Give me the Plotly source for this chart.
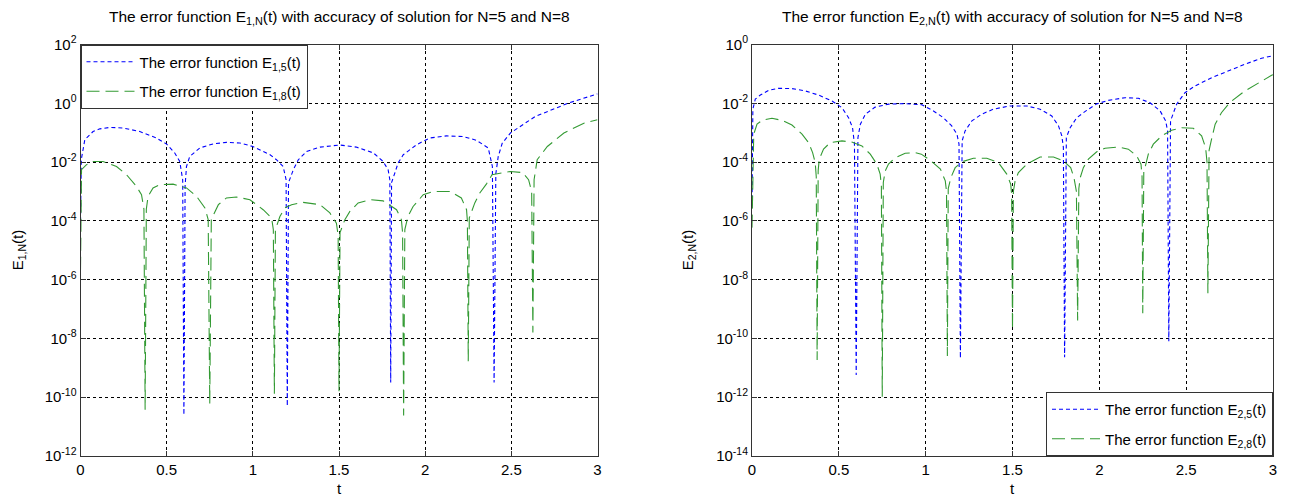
import plotly.graph_objects as go

# ---------------- data (errors stored as log10) -------------
# Left panel: E_{1,5}(t)
t_e15 = [0, 0.005, 0.025, 0.073, 0.112, 0.17, 0.247, 0.344, 0.44, 0.5, 0.547, 0.576, 0.593,
         0.6,
         0.607, 0.615, 0.634, 0.692, 0.77, 0.847, 0.924, 1.0, 1.1, 1.137, 1.176, 1.193,
         1.2,
         1.207, 1.235, 1.264, 1.312, 1.39, 1.505, 1.6, 1.7, 1.756, 1.785, 1.795,
         1.8,
         1.805, 1.824, 1.843, 1.873, 1.95, 2.027, 2.124, 2.22, 2.298, 2.366, 2.376, 2.39,
         2.4,
         2.41, 2.424, 2.447, 2.495, 2.638, 2.828, 3.0]
log_e15 = [-4.0, -1.9, -1.24, -0.96, -0.87, -0.82, -0.84, -0.96, -1.18, -1.39, -1.69, -1.98, -2.6,
           -10.6,
           -2.8, -2.15, -1.81, -1.52, -1.38, -1.33, -1.35, -1.47, -1.75, -1.92, -2.15, -2.6,
           -10.3,
           -2.7, -2.26, -1.92, -1.64, -1.49, -1.42, -1.49, -1.69, -1.98, -2.26, -2.6,
           -9.5,
           -2.7, -2.37, -2.03, -1.75, -1.41, -1.18, -1.11, -1.13, -1.26, -1.52, -1.75, -2.15,
           -9.5,
           -2.4, -1.81, -1.36, -1.01, -0.45, 0.0, 0.32]

# Left panel: E_{1,8}(t)
t_e18 = [0, 0.006, 0.035, 0.073, 0.131, 0.209, 0.267, 0.325, 0.354, 0.368,
         0.375,
         0.382, 0.392, 0.421, 0.46, 0.537, 0.615, 0.674, 0.722, 0.741,
         0.75,
         0.759, 0.8, 0.847, 0.905, 0.983, 1.06, 1.109, 1.119,
         1.125,
         1.131, 1.157, 1.186, 1.225, 1.29, 1.39, 1.447, 1.485, 1.495,
         1.5,
         1.506, 1.534, 1.563, 1.611, 1.68, 1.756, 1.834, 1.862, 1.869,
         1.875,
         1.882, 1.9, 1.93, 1.989, 2.047, 2.145, 2.21, 2.24, 2.245,
         2.25,
         2.256, 2.288, 2.317, 2.356, 2.388, 2.495, 2.566, 2.6, 2.618,
         2.625,
         2.632, 2.65, 2.709, 2.805, 2.924, 3.0]
log_e18 = [-5.66, -2.26, -2.09, -1.98, -1.98, -2.15, -2.43, -2.83, -3.11, -3.6,
           -10.43,
           -3.6, -3.17, -2.88, -2.77, -2.75, -2.88, -3.17, -3.56, -3.96,
           -10.22,
           -3.95, -3.45, -3.22, -3.19, -3.28, -3.62, -3.9, -4.3,
           -9.88,
           -4.3, -3.85, -3.56, -3.45, -3.37, -3.45, -3.73, -4.08, -4.5,
           -9.8,
           -4.4, -3.96, -3.68, -3.39, -3.28, -3.32, -3.62, -3.96, -4.4,
           -10.62,
           -4.3, -3.85, -3.51, -3.11, -3.0, -3.0, -3.22, -3.62, -4.0,
           -8.78,
           -3.9, -3.39, -3.05, -2.74, -2.43, -2.32, -2.36, -2.6, -3.0,
           -7.8,
           -2.6, -1.92, -1.47, -1.01, -0.67, -0.56]

# Right panel: E_{2,5}(t)
t_e25 = [0, 0.005, 0.019, 0.048, 0.096, 0.153, 0.23, 0.307, 0.383, 0.46, 0.518, 0.556, 0.579, 0.59,
         0.6,
         0.61, 0.624, 0.653, 0.709, 0.787, 0.882, 0.978, 1.045, 1.102, 1.15, 1.18, 1.192,
         1.2,
         1.21, 1.227, 1.266, 1.323, 1.39, 1.486, 1.582, 1.659, 1.726, 1.765, 1.784, 1.793,
         1.8,
         1.81, 1.832, 1.87, 1.927, 1.985, 2.052, 2.148, 2.225, 2.292, 2.35, 2.382, 2.393,
         2.4,
         2.41, 2.445, 2.493, 2.551, 2.647, 2.742, 2.838, 2.934, 3.0]
log_e25 = [-5.5, -2.2, -1.86, -1.72, -1.56, -1.49, -1.5, -1.58, -1.72, -1.92, -2.15, -2.49, -2.83, -3.39,
           -11.24,
           -3.17, -2.71, -2.37, -2.13, -2.03, -2.01, -2.05, -2.26, -2.49, -2.77, -3.05, -3.39,
           -10.67,
           -3.28, -2.94, -2.6, -2.37, -2.2, -2.09, -2.09, -2.2, -2.43, -2.77, -3.11, -3.5,
           -10.64,
           -3.17, -2.83, -2.49, -2.24, -2.02, -1.9, -1.81, -1.83, -1.98, -2.26, -2.6, -2.94,
           -10.1,
           -2.6, -2.03, -1.64, -1.41, -1.13, -0.9, -0.67, -0.47, -0.38]

# Right panel: E_{2,8}(t)
t_e28 = [0, 0.01, 0.029, 0.058, 0.115, 0.173, 0.23, 0.288, 0.326, 0.349, 0.364, 0.37,
         0.375,
         0.381, 0.387, 0.412, 0.45, 0.518, 0.575, 0.633, 0.681, 0.719, 0.738, 0.745,
         0.75,
         0.756, 0.767, 0.786, 0.825, 0.882, 0.94, 0.975, 1.027, 1.085, 1.113, 1.12,
         1.125,
         1.13, 1.145, 1.17, 1.209, 1.275, 1.352, 1.419, 1.467, 1.49, 1.495,
         1.5,
         1.505, 1.515, 1.534, 1.582, 1.659, 1.736, 1.793, 1.835, 1.854, 1.868,
         1.875,
         1.882, 1.89, 1.908, 1.937, 1.985, 2.033, 2.11, 2.167, 2.215, 2.24, 2.246,
         2.25,
         2.256, 2.263, 2.282, 2.311, 2.359, 2.416, 2.474, 2.541, 2.589, 2.612, 2.62,
         2.625,
         2.632, 2.644, 2.667, 2.703, 2.75, 2.838, 2.915, 2.992, 3.0]
log_e28 = [-6.23, -3.05, -2.71, -2.58, -2.51, -2.58, -2.74, -3.05, -3.34, -3.68, -4.02, -4.5,
           -10.73,
           -4.3, -3.9, -3.56, -3.34, -3.28, -3.32, -3.45, -3.73, -4.07, -4.41, -4.8,
           -11.98,
           -4.7, -4.3, -4.07, -3.85, -3.7, -3.68, -3.73, -3.94, -4.24, -4.64, -5.0,
           -10.6,
           -4.9, -4.53, -4.19, -3.99, -3.87, -3.87, -4.02, -4.41, -4.76, -5.1,
           -9.69,
           -5.0, -4.64, -4.36, -4.07, -3.83, -3.83, -3.96, -4.19, -4.53, -5.0,
           -9.39,
           -4.9, -4.53, -4.19, -3.9, -3.65, -3.53, -3.49, -3.56, -3.79, -4.07, -4.5,
           -9.14,
           -4.3, -4.19, -3.73, -3.39, -3.11, -2.92, -2.83, -2.85, -3.11, -3.51, -4.0,
           -8.46,
           -3.6, -3.28, -2.71, -2.32, -1.98, -1.58, -1.3, -1.05, -1.03]

x_tick_vals = [0, 0.5, 1, 1.5, 2, 2.5, 3]
x_tick_text = ["0", "0.5", "1", "1.5", "2", "2.5", "3"]
y1_exponents = [2, 0, -2, -4, -6, -8, -10, -12]
y2_exponents = [0, -2, -4, -6, -8, -10, -12, -14]

title1 = "The error function E<sub>1,N</sub>(t) with accuracy of solution for N=5 and N=8"
title2 = "The error function E<sub>2,N</sub>(t) with accuracy of solution for N=5 and N=8"
ylabel1 = "E<sub>1,N</sub>(t)"
ylabel2 = "E<sub>2,N</sub>(t)"
xlabel = "t"

for a, b in [(t_e15, log_e15), (t_e18, log_e18), (t_e25, log_e25), (t_e28, log_e28)]:
    assert len(a) == len(b), (len(a), len(b))


def to_val(logs):
    return [10.0 ** v for v in logs]


BLUE = "#0000ff"
GREEN = "#339a33"
BLUE_DASH = "4px,3px"
GREEN_DASH = "13px,6px"
FONT = "Liberation Sans, Arial, Helvetica, sans-serif"

# the page body adds an 8px margin, so the figure is 8px smaller and positions are shifted
W, H = 1281, 488
OFF = 8


def px_x(x):
    return (x - OFF) / W


def px_y(y):
    return 1 - (y - OFF) / H


fig = go.Figure()
fig.add_trace(go.Scatter(x=t_e15, y=to_val(log_e15), mode="lines", name="The error function E<sub>1,5</sub>(t)",
                         line=dict(color=BLUE, width=1.1, dash=BLUE_DASH), xaxis="x", yaxis="y",
                         legend="legend", legendgroup="a"))
fig.add_trace(go.Scatter(x=t_e18, y=to_val(log_e18), mode="lines", name="The error function E<sub>1,8</sub>(t)",
                         line=dict(color=GREEN, width=1.1, dash=GREEN_DASH), xaxis="x", yaxis="y",
                         legend="legend", legendgroup="b"))
fig.add_trace(go.Scatter(x=t_e25, y=to_val(log_e25), mode="lines", name="The error function E<sub>2,5</sub>(t)",
                         line=dict(color=BLUE, width=1.1, dash=BLUE_DASH), xaxis="x2", yaxis="y2",
                         legend="legend2", legendgroup="c"))
fig.add_trace(go.Scatter(x=t_e28, y=to_val(log_e28), mode="lines", name="The error function E<sub>2,8</sub>(t)",
                         line=dict(color=GREEN, width=1.1, dash=GREEN_DASH), xaxis="x2", yaxis="y2",
                         legend="legend2", legendgroup="d"))

common = dict(showline=True, linecolor="#333333", linewidth=1, mirror="ticks",
              ticks="inside", ticklen=5, tickcolor="#333333", automargin=False,
              showgrid=True, gridcolor="black", griddash="3px,3px", gridwidth=1,
              zeroline=False, tickfont=dict(family=FONT, size=15, color="black"))

XD1 = [px_x(80.5), px_x(597.5)]
XD2 = [px_x(752), px_x(1273)]
YD = [px_y(456), px_y(44.5)]


def ytick_text(exps):
    return ["10<sup>%d</sup>" % e for e in exps]


legend_common = dict(bgcolor="white", bordercolor="#333333", borderwidth=1,
                     font=dict(family=FONT, size=15, color="black"),
                     traceorder="grouped", tracegroupgap=7, itemwidth=48)

fig.update_layout(
    template="none",
    width=W, height=H, autosize=False,
    margin=dict(l=0, r=0, t=0, b=0, pad=0),
    paper_bgcolor="white", plot_bgcolor="white",
    font=dict(family=FONT, size=14, color="black"),
    showlegend=True,
    xaxis=dict(domain=XD1, range=[0, 3], anchor="y", tickvals=x_tick_vals, ticktext=x_tick_text, **common),
    yaxis=dict(domain=YD, type="log", range=[-12, 2], anchor="x",
               tickvals=[10.0 ** e for e in y1_exponents], ticktext=ytick_text(y1_exponents), **common),
    xaxis2=dict(domain=XD2, range=[0, 3], anchor="y2", tickvals=x_tick_vals, ticktext=x_tick_text, **common),
    yaxis2=dict(domain=YD, type="log", range=[-14, 0], anchor="x2",
                tickvals=[10.0 ** e for e in y2_exponents], ticktext=ytick_text(y2_exponents), **common),
    legend=dict(x=XD1[0], y=YD[1], xanchor="left", yanchor="top", **legend_common),
    legend2=dict(x=XD2[1], y=YD[0], xanchor="right", yanchor="bottom", **legend_common),
    annotations=[
        dict(text=title1, x=(XD1[0] + XD1[1]) / 2, y=px_y(18), xref="paper", yref="paper",
             xanchor="center", yanchor="middle", showarrow=False, font=dict(size=15.5)),
        dict(text=title2, x=(XD2[0] + XD2[1]) / 2, y=px_y(18), xref="paper", yref="paper",
             xanchor="center", yanchor="middle", showarrow=False, font=dict(size=15.5)),
        dict(text=ylabel1, x=px_x(18), y=(YD[0] + YD[1]) / 2, xref="paper", yref="paper",
             xanchor="center", yanchor="middle", textangle=-90, showarrow=False, font=dict(size=15)),
        dict(text=ylabel2, x=px_x(688), y=(YD[0] + YD[1]) / 2, xref="paper", yref="paper",
             xanchor="center", yanchor="middle", textangle=-90, showarrow=False, font=dict(size=15)),
        dict(text=xlabel, x=(XD1[0] + XD1[1]) / 2, y=px_y(488), xref="paper", yref="paper",
             xanchor="center", yanchor="middle", showarrow=False, font=dict(size=15)),
        dict(text=xlabel, x=(XD2[0] + XD2[1]) / 2, y=px_y(488), xref="paper", yref="paper",
             xanchor="center", yanchor="middle", showarrow=False, font=dict(size=15)),
    ],
)

fig.write_html("out.html")
